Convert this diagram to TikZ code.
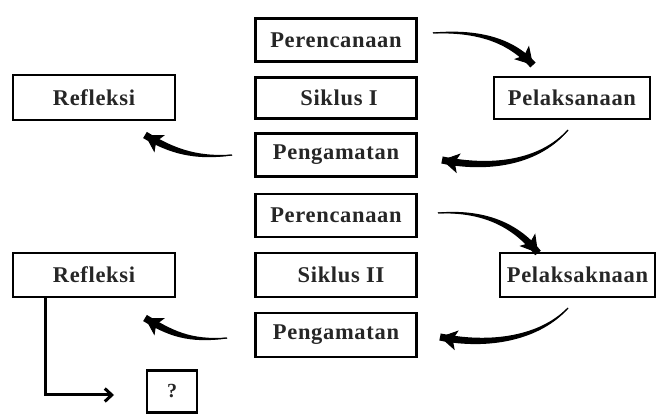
\documentclass[tikz,border=0pt]{standalone}
\usepackage{fontspec}
\setmainfont{Liberation Serif}[LetterSpace=3]
\usetikzlibrary{arrows.meta,calc}
\newcommand\taperflow[4]{%
  \fill ($(#1)!0.5pt!90:(#2)$) .. controls ($(#2)!2pt!90:(#3)$) and ($(#3)!3.4pt!90:(#4)$) .. ($(#4)!3.6pt!-90:(#3)$)
     -- ($(#4)!3.6pt!90:(#3)$) .. controls ($(#3)!3.4pt!-90:(#4)$) and ($(#2)!2pt!-90:(#3)$) .. ($(#1)!0.5pt!-90:(#2)$) -- cycle;
  \draw[flowtip] (#1) .. controls (#2) and (#3) .. (#4);}
\begin{document}
\begin{tikzpicture}[x=1pt,y=-1pt,
  box/.style={draw, line width=2.8pt, inner sep=0pt, font=\fontsize{22.5}{26}\selectfont\bfseries, text=black!85},
  flowtip/.style={line width=1pt, -{Stealth[length=17pt,width=20pt,inset=4pt]}},
  elbow/.style={line width=3pt, -{Straight Barb[length=7pt,width=13pt,line width=3pt]}}]
\useasboundingbox (0,0) rectangle (657,414);
% Cycle I
\node[box, minimum width=161pt, minimum height=43pt] (p1) at (336,40) {Perencanaan};
\node[box, minimum width=161pt, minimum height=41pt] (s1) at (336,98) {\hspace*{6pt}Siklus I};
\node[box, minimum width=156pt, minimum height=42pt] (l1) at (572,98) {Pelaksanaan};
\node[box, minimum width=161pt, minimum height=43pt] (g1) at (336,155) {Pengamatan};
\node[box, minimum width=162pt, minimum height=45pt] (r1) at (94,97.5) {Refleksi};
% Cycle II
\node[box, minimum width=161pt, minimum height=43pt] (p2) at (336,215.5) {Perencanaan};
\node[box, minimum width=161pt, minimum height=44pt] (s2) at (336,275) {\hspace*{10pt}Siklus II};
\node[box, minimum width=155pt, minimum height=44pt] (l2) at (577.5,275) {Pelaksaknaan};
\node[box, minimum width=161pt, minimum height=44pt] (g2) at (336,335) {Pengamatan};
\node[box, minimum width=162pt, minimum height=44pt] (r2) at (94,275) {Refleksi};
\node[box, minimum width=50pt, minimum height=42pt, font=\fontsize{20}{24}\selectfont\bfseries] (q) at (172,391.5) {?};
% connector points
\coordinate (a1s) at (433,33);  \coordinate (a1e) at (533,65);
\coordinate (a1c) at (483,30);  \coordinate (a1d) at (513,43);
\coordinate (a2s) at (568,130); \coordinate (a2e) at (442,160);
\coordinate (a2c) at (540,162); \coordinate (a2d) at (492,170);
\coordinate (a3s) at (232,155); \coordinate (a3e) at (145,135);
\coordinate (a3c) at (194,159); \coordinate (a3d) at (170,150);
\coordinate (a4s) at (438,213); \coordinate (a4e) at (538,253);
\coordinate (a4c) at (488,210); \coordinate (a4d) at (518,228);
\coordinate (a5s) at (568,308); \coordinate (a5e) at (440,337);
\coordinate (a5c) at (540,338); \coordinate (a5d) at (490,347);
\coordinate (a6s) at (227,338); \coordinate (a6e) at (145,318);
\coordinate (a6c) at (189,342); \coordinate (a6d) at (170,333);
\taperflow{a1s}{a1c}{a1d}{a1e}
\taperflow{a2s}{a2c}{a2d}{a2e}
\taperflow{a3s}{a3c}{a3d}{a3e}
\taperflow{a4s}{a4c}{a4d}{a4e}
\taperflow{a5s}{a5c}{a5d}{a5e}
\taperflow{a6s}{a6c}{a6d}{a6e}
% elbow
\coordinate (eb) at (45,395);
\coordinate (ee) at (114,395);
\draw[elbow] (r2.south -| eb) -- (eb) -- (ee);
\end{tikzpicture}
\end{document}
